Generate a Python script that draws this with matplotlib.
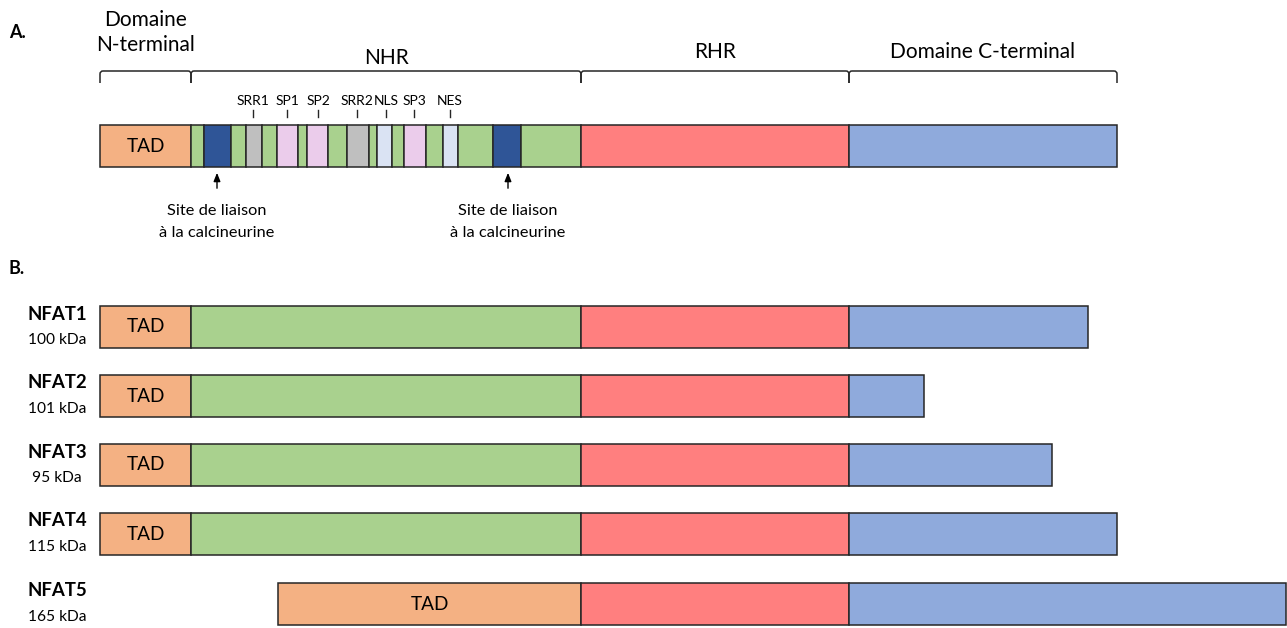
import matplotlib.pyplot as plt
from matplotlib.path import Path
from matplotlib.patches import PathPatch

plt.rcParams['font.family'] = ['Lato', 'DejaVu Sans']

# ---- panel A : domain organisation (positions in figure pixels) ----
domain_labels = ["Domaine\nN-terminal", "NHR", "RHR", "Domaine C-terminal"]
domain_bounds = [100, 191, 581, 849, 1117]

# segments of the full-length protein: (start, end, colour key)
seg_starts = [100, 191, 204, 231, 246, 262, 277, 298, 307, 328, 347, 369, 377, 392, 404, 426, 443, 458, 493, 521, 581, 849]
seg_ends = [191, 204, 231, 246, 262, 277, 298, 307, 328, 347, 369, 377, 392, 404, 426, 443, 458, 493, 521, 581, 849, 1117]
seg_kinds = ["tad", "nhr", "cn", "nhr", "srr", "nhr", "sp", "nhr", "sp", "nhr", "srr", "nhr", "nls",
             "nhr", "sp", "nhr", "nls", "nhr", "cn", "nhr", "rhr", "ct"]

motif_names = ["SRR1", "SP1", "SP2", "SRR2", "NLS", "SP3", "NES"]
motif_x = [253, 287, 318, 357, 386, 414, 450]

cn_sites_x = [217, 508]

# ---- panel B : isoforms ----
isoforms = ["NFAT1", "NFAT2", "NFAT3", "NFAT4", "NFAT5"]
masses = ["100 kDa", "101 kDa", "95 kDa", "115 kDa", "165 kDa"]
tad_start = [100, 100, 100, 100, 278]
tad_end = [191, 191, 191, 191, 581]
rhr_start = [581, 581, 581, 581, 581]
rhr_end = [849, 849, 849, 849, 849]
ct_end = [1088, 924, 1052, 1117, 1286]

colors = {
    "tad": "#F4B183", "nhr": "#A9D18E", "cn": "#2F5597", "srr": "#BFBFBF",
    "sp": "#EBCCEB", "nls": "#DAE3F3", "rhr": "#FF7F7F", "ct": "#8FAADC",
}
edge = "#262626"

fig = plt.figure(figsize=(12.87, 6.28), dpi=100)
ax = fig.add_axes([0, 0, 1, 1])
ax.set_xlim(0, 1287)
ax.set_ylim(628, 0)
ax.axis("off")

# panel letters
ax.text(9, 32, "A.", fontsize=13, fontweight="bold", ha="left", va="center")
ax.text(9, 268, "B.", fontsize=13, fontweight="bold", ha="left", va="center")

# braces
y_top, y_bot, r = 71, 83, 3
for x0, x1 in zip(domain_bounds[:-1], domain_bounds[1:]):
    verts = [(x0, y_bot), (x0, y_top + r), (x0, y_top), (x0 + r, y_top),
             (x1 - r, y_top), (x1, y_top), (x1, y_top + r), (x1, y_bot)]
    codes = [Path.MOVETO, Path.LINETO, Path.CURVE3, Path.CURVE3,
             Path.LINETO, Path.CURVE3, Path.CURVE3, Path.LINETO]
    ax.add_patch(PathPatch(Path(verts, codes), fill=False, lw=1.1, edgecolor=edge))

label_y = [None, 58, 52, 52]
for i, lab in enumerate(domain_labels):
    xc = (domain_bounds[i] + domain_bounds[i + 1]) / 2
    if i == 0:
        ax.text(xc, 20, "Domaine", fontsize=15, ha="center", va="center")
        ax.text(xc, 45, "N-terminal", fontsize=15, ha="center", va="center")
    else:
        ax.text(xc, label_y[i], lab, fontsize=15, ha="center", va="center")

# full-length bar
ya, ha_ = 146, 42
for s, e, k in zip(seg_starts, seg_ends, seg_kinds):
    ax.barh(ya, e - s, left=s, height=ha_, color=colors[k], edgecolor=edge, linewidth=1.1)
ax.text((seg_starts[0] + seg_ends[0]) / 2, ya, "TAD", fontsize=13.7, ha="center", va="center")

for name, x in zip(motif_names, motif_x):
    ax.text(x, 101, name, fontsize=10, ha="center", va="center")
    ax.plot([x, x], [110, 117], color=edge, lw=1)

for x in cn_sites_x:
    ax.annotate("", xy=(x, 170), xytext=(x, 191),
                arrowprops=dict(arrowstyle="-|>,head_length=0.5,head_width=0.2", color="black", lw=1))
    ax.text(x, 211, "Site de liaison", fontsize=11.8, ha="center", va="center")
    ax.text(x, 233, "à la calcineurine", fontsize=11.8, ha="center", va="center")

# isoform bars
row_y = [327, 396, 465, 534, 604]
for i in range(len(isoforms)):
    y = row_y[i]
    ax.barh(y, tad_end[i] - tad_start[i], left=tad_start[i], height=42,
            color=colors["tad"], edgecolor=edge, linewidth=1.1)
    if tad_end[i] < rhr_start[i]:
        ax.barh(y, rhr_start[i] - tad_end[i], left=tad_end[i], height=42,
                color=colors["nhr"], edgecolor=edge, linewidth=1.1)
    ax.barh(y, rhr_end[i] - rhr_start[i], left=rhr_start[i], height=42,
            color=colors["rhr"], edgecolor=edge, linewidth=1.1)
    ax.barh(y, ct_end[i] - rhr_end[i], left=rhr_end[i], height=42,
            color=colors["ct"], edgecolor=edge, linewidth=1.1)
    ax.text((tad_start[i] + tad_end[i]) / 2, y, "TAD", fontsize=13.7, ha="center", va="center")
    ax.text(57, y - 13, isoforms[i], fontsize=13.4, fontweight="bold", ha="center", va="center")
    ax.text(57, y + 13, masses[i], fontsize=11.2, ha="center", va="center")

fig.savefig("out.png", dpi=100)
